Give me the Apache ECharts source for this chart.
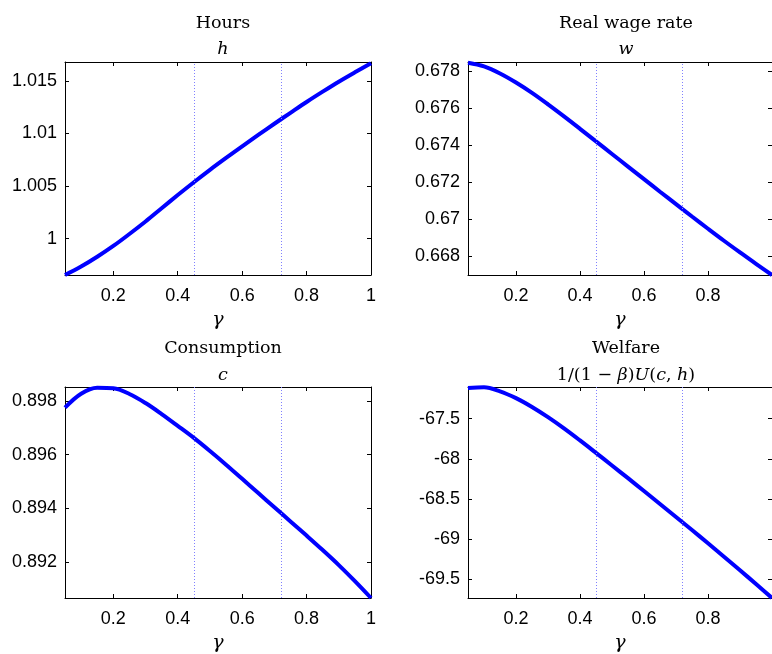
<!DOCTYPE html>
<html>
<head>
<meta charset="utf-8">
<script src="https://cdn.jsdelivr.net/npm/echarts@6/dist/echarts.min.js"></script>
<style>
html,body{margin:0;padding:0;background:#fff;}
#chart{width:772px;height:654px;}
</style>
</head>
<body>
<div id="chart"></div>
<script>
// ---- data ----
const gamma = [0.05,0.10,0.15,0.20,0.25,0.30,0.35,0.40,0.45,0.50,0.55,0.60,0.65,0.70,0.75,0.80,0.85,0.90,0.95,1.00];
const hours = [0.99655,0.99735,0.99828,0.99931,1.00045,1.00164,1.00290,1.00415,1.00537,1.00655,1.00768,1.00878,1.00987,1.01093,1.01197,1.01300,1.01398,1.01493,1.01582,1.01668];
const wage = [0.67847,0.67827,0.67789,0.67740,0.67684,0.67622,0.67557,0.67490,0.67422,0.67354,0.67286,0.67218,0.67150,0.67083,0.67016,0.66950,0.66885,0.66822,0.66760,0.66700];
const consumption = [0.89776,0.89828,0.89850,0.89848,0.89827,0.89793,0.89752,0.89708,0.89663,0.89614,0.89563,0.89510,0.89457,0.89404,0.89351,0.89298,0.89244,0.89188,0.89128,0.89065];
const welfare = [-67.118,-67.110,-67.160,-67.245,-67.355,-67.482,-67.622,-67.772,-67.927,-68.084,-68.242,-68.402,-68.563,-68.725,-68.888,-69.053,-69.220,-69.389,-69.561,-69.735];
const vLines = [0.45, 0.72];
const xRange = [0.05, 1];
const xTicks = [0.2, 0.4, 0.6, 0.8, 1];
const xTicksRightLabels = [0.2, 0.4, 0.6, 0.8];
const hRange = [0.99655, 1.0168];
const hTicks = [1, 1.005, 1.01, 1.015];
const wRange = [0.66700, 0.67851];
const wTicks = [0.668, 0.670, 0.672, 0.674, 0.676, 0.678];
const cRange = [0.89065, 0.89853];
const cTicks = [0.892, 0.894, 0.896, 0.898];
const uRange = [-69.735, -67.106];
const uTicks = [-69.5, -69, -68.5, -68, -67.5];
const titles = ['Hours', 'Real wage rate', 'Consumption', 'Welfare'];
const xName = 'γ';

// ---- layout ----
const grids = [
  {left: 65, top: 62, width: 306, height: 213},
  {left: 468, top: 62, width: 306, height: 213},
  {left: 65, top: 387, width: 306, height: 213},
  {left: 468, top: 387, width: 306, height: 213}
];
const panels = [
  {y: hours, range: hRange, ticks: hTicks, xl: xTicks},
  {y: wage, range: wRange, ticks: wTicks, xl: xTicksRightLabels},
  {y: consumption, range: cRange, ticks: cTicks, xl: xTicks},
  {y: welfare, range: uRange, ticks: uTicks, xl: xTicksRightLabels}
];
const fmt = v => String(parseFloat(Number(v).toFixed(6)));
const sans = 'Liberation Sans, Arial, Helvetica, sans-serif';
const serif = 'DejaVu Serif, serif';
const lineC = '#000';

const xAxis = [], yAxis = [], series = [], title = [];
panels.forEach((p, i) => {
  xAxis.push({
    type: 'value', gridIndex: i, min: xRange[0], max: xRange[1], position: 'bottom',
    axisLine: {show: true, onZero: false, lineStyle: {color: lineC, width: 1}},
    axisTick: {show: true, inside: true, length: 4, customValues: xTicks, lineStyle: {color: lineC}},
    axisLabel: {show: true, customValues: p.xl, formatter: fmt, margin: 12, fontSize: 18, fontFamily: sans, color: '#000'},
    splitLine: {show: false},
    name: xName, nameLocation: 'middle', nameGap: 36,
    nameTextStyle: {fontFamily: serif, fontStyle: 'italic', fontSize: 19, color: '#000'}
  });
  xAxis.push({
    type: 'value', gridIndex: i, min: xRange[0], max: xRange[1], position: 'top',
    axisLine: {show: true, onZero: false, lineStyle: {color: lineC, width: 1}},
    axisTick: {show: true, inside: true, length: 4, customValues: xTicks, lineStyle: {color: lineC}},
    axisLabel: {show: false}, splitLine: {show: false}
  });
  yAxis.push({
    type: 'value', gridIndex: i, min: p.range[0], max: p.range[1], position: 'left',
    axisLine: {show: true, onZero: false, lineStyle: {color: lineC, width: 1}},
    axisTick: {show: true, inside: true, length: 4, customValues: p.ticks, lineStyle: {color: lineC}},
    axisLabel: {show: true, customValues: p.ticks, formatter: fmt, margin: 8, fontSize: 18, fontFamily: sans, color: '#000'},
    splitLine: {show: false}
  });
  yAxis.push({
    type: 'value', gridIndex: i, min: p.range[0], max: p.range[1], position: 'right',
    axisLine: {show: true, onZero: false, lineStyle: {color: lineC, width: 1}},
    axisTick: {show: true, inside: true, length: 4, customValues: p.ticks, lineStyle: {color: lineC}},
    axisLabel: {show: false}, splitLine: {show: false}
  });
  series.push({
    type: 'line', xAxisIndex: 2 * i, yAxisIndex: 2 * i,
    data: gamma.map((g, k) => [g, p.y[k]]),
    showSymbol: false, smooth: 0.35, clip: false,
    lineStyle: {color: '#0000ff', width: 4},
    markLine: {
      silent: true, symbol: ['none', 'none'], animation: false,
      label: {show: false},
      lineStyle: {color: '#8080ff', width: 1, type: [1, 2]},
      emphasis: {disabled: true},
      data: vLines.map(v => ({xAxis: v}))
    },
    z: 3
  });
  const g = grids[i];
  const cx = g.left + g.width / 2;
  const top0 = i < 2 ? 9 : 334;
  title.push({
    text: titles[i], left: cx, top: top0, textAlign: 'center',
    textStyle: {fontFamily: serif, fontWeight: 'normal', fontSize: 17.5, color: '#000'}
  });
});
const it = {fontFamily: serif, fontStyle: 'italic', fontWeight: 'normal', fontSize: 17.5, color: '#000'};
const rm = {fontFamily: serif, fontStyle: 'normal', fontWeight: 'normal', fontSize: 17.5, color: '#000'};
const subs = [
  '{i|h}', '{i|w}', '{i|c}',
  '{r|1/(1 − }{i|β}{r|)}{i|U}{r|(}{i|c}{r|, }{i|h}{r|)}'
];
subs.forEach((s, i) => {
  const g = grids[i];
  title.push({
    text: s, left: g.left + g.width / 2, top: i < 2 ? 35 : 361, textAlign: 'center',
    textStyle: {rich: {i: it, r: rm}, fontSize: 17.5, fontWeight: 'normal'}
  });
});

const chart = echarts.init(document.getElementById('chart'), null, {renderer: 'canvas'});
chart.setOption({
  animation: false,
  backgroundColor: '#fff',
  title: title,
  grid: grids,
  xAxis: xAxis,
  yAxis: yAxis,
  series: series
});
</script>
</body>
</html>
